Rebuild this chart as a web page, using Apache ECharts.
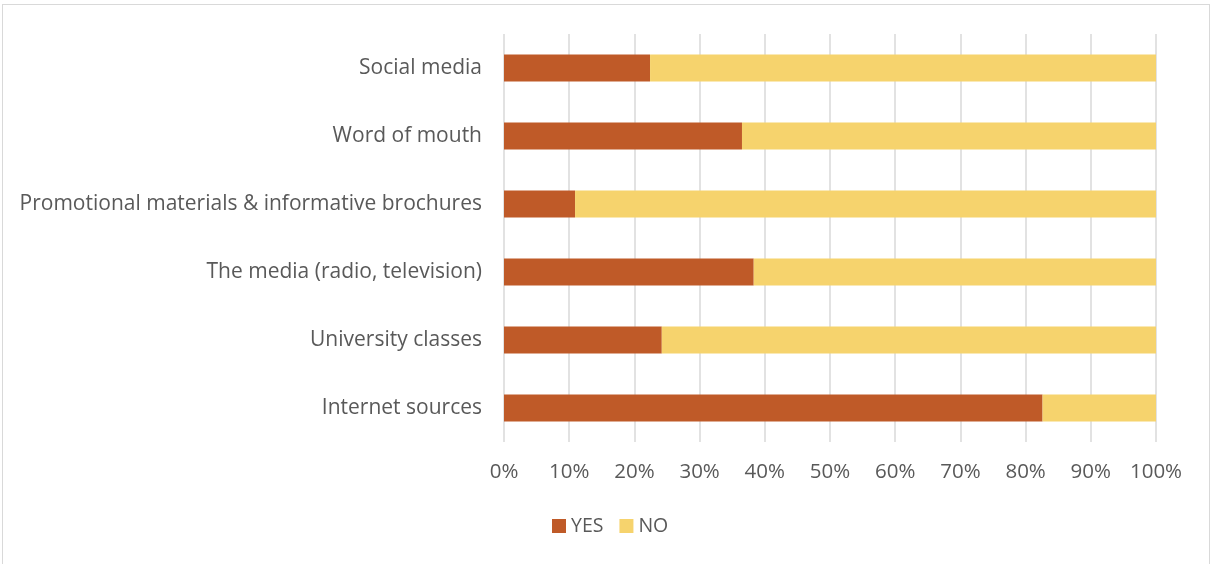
<!DOCTYPE html>
<html>
<head>
<meta charset="utf-8">
<script src="https://cdn.jsdelivr.net/npm/echarts@6/dist/echarts.min.js"></script>
<style>
  html, body { margin: 0; padding: 0; background: #fff; }
  #frame { position: absolute; left: 2px; top: 4px; width: 1208px; height: 566px; border: 1px solid #d9d9d9; box-sizing: border-box; }
  #chart { position: absolute; left: 0; top: 0; width: 1212px; height: 564px; }
</style>
</head>
<body>
<div id="frame"></div>
<div id="chart"></div>
<script>
// Information sources, listed bottom to top as on the axis
const categories = [
  'Internet sources',
  'University classes',
  'The media (radio, television)',
  'Promotional materials & informative brochures',
  'Word of mouth',
  'Social media'
];
const yesShare = [82.6, 24.2, 38.3, 10.9, 36.5, 22.4];
const noShare = yesShare.map(v => +(100 - v).toFixed(1));
const seriesNames = ['YES', 'NO'];
const tickLabels = ['0%', '10%', '20%', '30%', '40%', '50%', '60%', '70%', '80%', '90%', '100%'];

const font = '"Open Sans", "Liberation Sans", sans-serif';
const chart = echarts.init(document.getElementById('chart'), null, { renderer: 'canvas' });
chart.setOption({
  animation: false,
  textStyle: { fontFamily: font },
  grid: { left: 504, right: 56, top: 34, height: 408, containLabel: false },
  legend: {
    data: seriesNames,
    bottom: 23,
    left: 547,
    itemWidth: 14,
    itemHeight: 14,
    itemGap: 16,
    icon: 'rect',
    textStyle: { color: '#595959', fontSize: 19.5, fontFamily: font }
  },
  xAxis: {
    type: 'value',
    min: 0,
    max: 100,
    interval: 10,
    axisLine: { show: false },
    axisTick: { show: false },
    splitLine: { lineStyle: { color: '#d9d9d9', width: 1.5 } },
    axisLabel: {
      color: '#595959',
      fontSize: 20.5,
      margin: 20,
      formatter: (v) => tickLabels[Math.round(v / 10)]
    }
  },
  yAxis: {
    type: 'category',
    data: categories,
    axisLine: { show: false },
    axisTick: { show: false },
    axisLabel: { color: '#595959', fontSize: 21, margin: 22 }
  },
  series: [
    {
      name: seriesNames[0],
      type: 'bar',
      stack: 'share',
      data: yesShare,
      barCategoryGap: '60%',
      itemStyle: { color: '#BF5A28' }
    },
    {
      name: seriesNames[1],
      type: 'bar',
      stack: 'share',
      data: noShare,
      itemStyle: { color: '#F6D36D' }
    }
  ]
});
</script>
</body>
</html>
